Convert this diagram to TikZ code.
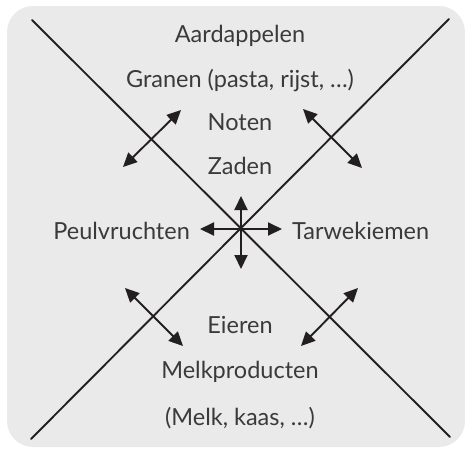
\documentclass[tikz,border=0pt]{standalone}
\usepackage{fontspec}
\setmainfont{Lato}
\usetikzlibrary{arrows.meta}
\definecolor{bg}{HTML}{EAEAEA}
\definecolor{ink}{HTML}{231F20}
\definecolor{txt}{HTML}{3A3A3A}
\tikzset{
  xline/.style={draw=ink, line width=1.9pt, line cap=round},
  dbl/.style={draw=ink, line width=1.9pt, {Triangle[length=14pt,width=13pt]}-{Triangle[length=14pt,width=13pt]}},
  sgl/.style={draw=ink, line width=1.9pt, -{Triangle[length=14pt,width=13pt]}},
  lbl/.style={text=txt, font=\fontsize{23.5}{26}\selectfont, inner sep=0pt}
}
\begin{document}
\begin{tikzpicture}[x=1pt,y=-1pt]
\useasboundingbox (0,0) rectangle (465,448);
\fill[bg, rounded corners=26pt] (7,6) rectangle (465,447);
% X lines
\coordinate (a1) at (32,20);
\coordinate (a2) at (450,437);
\coordinate (b1) at (449,19);
\coordinate (b2) at (31,439);
\draw[xline] (a1) -- (a2);
\draw[xline] (b1) -- (b2);
% center arrows
\coordinate (c) at (241,229);
\coordinate (cu) at (241,196);
\coordinate (cd) at (241,269);
\coordinate (cl) at (200,229);
\coordinate (cr) at (282,229);
\draw[sgl] (c) -- (cu);
\draw[sgl] (c) -- (cd);
\draw[sgl] (c) -- (cl);
\draw[sgl] (c) -- (cr);
% diagonal arrows
\coordinate (ul1) at (181,110); \coordinate (ul2) at (123,167);
\coordinate (ur1) at (303,109); \coordinate (ur2) at (362,168);
\coordinate (lr1) at (358,288); \coordinate (lr2) at (301,346);
\coordinate (ll1) at (125,288); \coordinate (ll2) at (183,346);
\draw[dbl] (ul1) -- (ul2);
\draw[dbl] (ur1) -- (ur2);
\draw[dbl] (lr1) -- (lr2);
\draw[dbl] (ll1) -- (ll2);
% labels
\node[lbl, anchor=base] (t1) at (240,42) {Aardappelen};
\node[lbl, anchor=base] (t2) at (240,87) {Granen (pasta, rijst, …)};
\node[lbl, anchor=base] (t3) at (240,130) {Noten};
\node[lbl, anchor=base] (t4) at (240,174) {Zaden};
\node[lbl, anchor=base east] (t5) at (190,239) {Peulvruchten};
\node[lbl, anchor=base west] (t6) at (292,239) {Tarwekiemen};
\node[lbl, anchor=base] (t7) at (240,333) {Eieren};
\node[lbl, anchor=base] (t8) at (240,378) {Melkproducten};
\node[lbl, anchor=base] (t9) at (240,425) {(Melk, kaas, …)};
\end{tikzpicture}
\end{document}
